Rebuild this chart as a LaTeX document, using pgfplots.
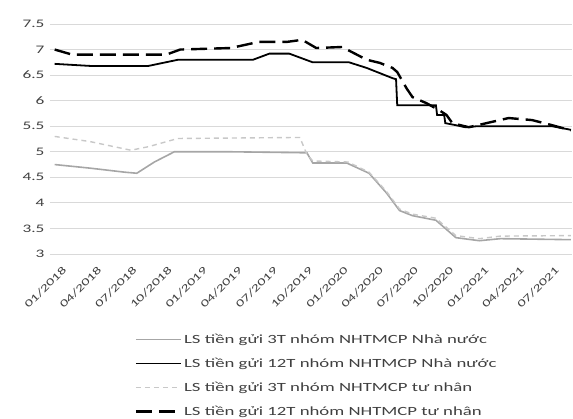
\documentclass[border=0pt]{standalone}
\usepackage{fontspec}
\setmainfont{Carlito}[FakeStretch=1.5]
\usepackage{pgfplots}
\pgfplotsset{compat=1.18}
\definecolor{gridc}{HTML}{D9D9D9}
\definecolor{g3nn}{HTML}{A6A6A6}
\definecolor{g3tn}{HTML}{C8C8C8}
\begin{document}
\begin{tikzpicture}[x=1pt,y=1pt]
\useasboundingbox (-50,-165) rectangle (523,254);
\begin{axis}[
  at={(0,0)}, anchor=south west, scale only axis,
  width=522pt, height=230pt,
  xmin=-0.4, xmax=44.1, ymin=3, ymax=7.5,
  axis line style={draw=none},
  major tick length=0pt,
  ymajorgrids, grid style={gridc, line width=0.8pt},
  ytick={3,3.5,4,4.5,5,5.5,6,6.5,7,7.5},
  yticklabels={3,3.5,4,4.5,5,5.5,6,6.5,7,7.5},
  xtick={0,3,...,42},
  xticklabels={01/2018,04/2018,07/2018,10/2018,01/2019,04/2019,07/2019,10/2019,01/2020,04/2020,07/2020,10/2020,01/2021,04/2021,07/2021},
  x tick label style={rotate=45, anchor=north east, yshift=-12pt, xshift=-2pt, inner sep=1pt, font=\fontsize{10.5}{12}\selectfont, text=black!75},
  y tick label style={font=\fontsize{11.5}{12}\selectfont, text=black!75, xshift=-2pt},
  /pgf/number format/assume math mode=true,
  legend style={at={(0.16,-0.335)}, anchor=north west, draw=none, fill=none,
    font=\fontsize{12.5}{14}\selectfont, row sep=9pt, text=black!75, inner sep=1pt},
  legend cell align=left,
  legend image code/.code={\draw[#1] (0pt,0pt) -- (45pt,0pt);},
]
% LS tien gui 3T nhom NHTMCP Nha nuoc
\addplot[g3nn, line width=1.6pt] coordinates {
(0,4.75) (3,4.68) (6,4.6) (7,4.58) (8.5,4.8) (10.2,5.0) (15,5.0) (21.5,4.98) (22,4.78) (24.9,4.78)
(26.8,4.58) (28.3,4.19) (29.4,3.85) (30.5,3.75) (32.5,3.66) (34.2,3.32) (36.2,3.26) (38,3.3) (44,3.28)};
\addlegendentry{LS tiền gửi 3T nhóm NHTMCP Nhà nước}
% LS tien gui 12T nhom NHTMCP Nha nuoc
\addplot[black, line width=1.8pt] coordinates {
(0,6.72) (3,6.68) (8,6.68) (10.5,6.8) (16.9,6.8) (18.3,6.92) (20,6.92) (22,6.75) (25.1,6.75)
(26.6,6.64) (28.8,6.44) (29.1,6.42) (29.2,5.91) (32.5,5.91) (32.6,5.72) (33.2,5.72) (33.3,5.56)
(34.2,5.52) (35,5.48) (36,5.5) (42.4,5.5) (44,5.43)};
\addlegendentry{LS tiền gửi 12T nhóm NHTMCP Nhà nước}
% LS tien gui 3T nhom NHTMCP tu nhan
\addplot[g3tn, line width=1.4pt, dash pattern=on 5pt off 4pt] coordinates {
(0,5.3) (3,5.2) (6.5,5.03) (8,5.1) (10.5,5.26) (20.9,5.28) (21.5,4.95) (22,4.82) (25,4.8)
(26.8,4.6) (28.3,4.22) (29.4,3.88) (30.5,3.78) (32.5,3.7) (34.2,3.36) (36.2,3.3) (38,3.35) (44,3.36)};
\addlegendentry{LS tiền gửi 3T nhóm NHTMCP tư nhân}
% LS tien gui 12T nhom NHTMCP tu nhan
\addplot[black, line width=2.4pt, dash pattern=on 16pt off 7pt] coordinates {
(0,7.0) (1.5,6.9) (9.5,6.9) (10.7,7.0) (15,7.03) (17.4,7.15) (19.8,7.15) (21.1,7.19) (22.3,7.03)
(24.5,7.05) (26.6,6.8) (27.7,6.74) (28.8,6.64) (29.2,6.56) (30,6.24) (30.5,6.07) (31.7,5.95)
(32.8,5.81) (33.4,5.72) (33.9,5.56) (35.3,5.48) (38.7,5.66) (40.7,5.62) (42.4,5.52) (44,5.42)};
\addlegendentry{LS tiền gửi 12T nhóm NHTMCP tư nhân}
\end{axis}
\end{tikzpicture}
\end{document}
